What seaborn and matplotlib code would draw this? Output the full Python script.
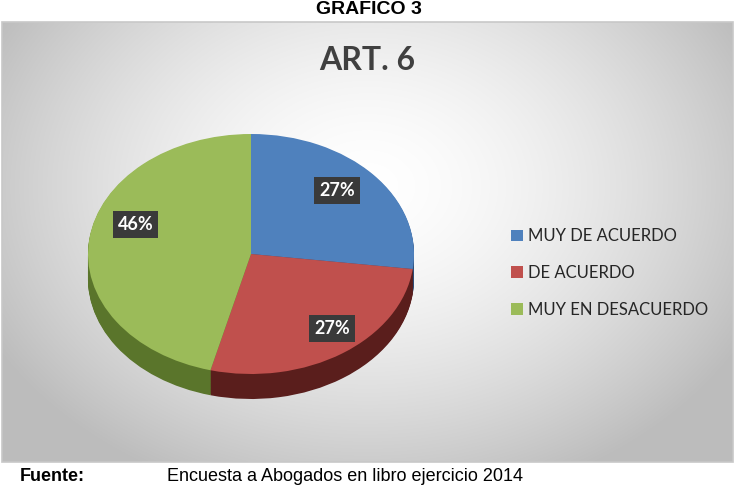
import numpy as np
import matplotlib
matplotlib.use("Agg")
import matplotlib.pyplot as plt
import matplotlib.transforms as mtransforms
import seaborn as sns
from matplotlib.patches import Rectangle

categories = ["MUY DE ACUERDO", "DE ACUERDO", "MUY EN DESACUERDO"]
values = [27, 27, 46]
top_colors = ["#4F81BD", "#C0504D", "#9BBB59"]
side_colors = ["#2E4E78", "#5A1E1C", "#5A752B"]

title = "ART. 6"
header = "GRAFICO 3"
source_label = "Fuente:"
source_text = "Encuesta a Abogados en libro ejercicio 2014"

# label nudges in pixels (dx, dy-down), style only
label_nudges = [(-2, -6), (15, 3), (1, -19)]

sns.set_theme(style="white")
plt.rcParams["font.family"] = ["Lato", "DejaVu Sans"]

W, H = 735, 486
fig = plt.figure(figsize=(W / 100, H / 100), dpi=100)
fig.patch.set_facecolor("white")

def fx(px):
    return px / W

def fy(py):
    return 1 - py / H

# chart area with radial gradient background
cx0, cy0, cx1, cy1 = 2, 22, 733, 462
bg = fig.add_axes([fx(cx0), fy(cy1), fx(cx1 - cx0), (cy1 - cy0) / H])
gx, gy = np.meshgrid(np.linspace(-1, 1, 400), np.linspace(-1, 1, 260))
r = np.sqrt((gx * 0.95) ** 2 + ((gy + 0.25) * 0.75) ** 2)
shade = np.clip(1.0 - 0.22 * r ** 1.6, 0.74, 1.0)
img = np.dstack([shade, shade, shade])
bg.imshow(img, aspect="auto", extent=[0, 1, 0, 1], interpolation="bilinear")
bg.set_xlim(0, 1)
bg.set_ylim(0, 1)
bg.axis("off")
bg.add_patch(Rectangle((0, 0), 1, 1, fill=False, edgecolor="#c8c8c8", lw=1.2,
                       transform=bg.transAxes, clip_on=False))

# 3D-like pie
rx, ry = 163, 120
pcx, pcy = 251, 254
depth_px = 25
depth = depth_px / ry
left_px = pcx - rx
top_px = pcy - ry
h_px = 2 * ry + depth_px
ax = fig.add_axes([fx(left_px), fy(top_px + h_px), fx(2 * rx), h_px / H])
n_layers = 30
for d in np.linspace(depth, 0.0, n_layers, endpoint=False):
    ax.pie(values, colors=side_colors, startangle=90, counterclock=False,
           center=(0, -d), radius=1, wedgeprops=dict(linewidth=0))
wedges, texts, autotexts = ax.pie(
    values, colors=top_colors, startangle=90, counterclock=False,
    center=(0, 0), radius=1, autopct="%1.0f%%", pctdistance=0.72,
    wedgeprops=dict(linewidth=0),
    textprops=dict(color="white", fontsize=13, fontweight="bold"))
for t, (dx, dy) in zip(autotexts, label_nudges):
    t.set_bbox(dict(boxstyle="square,pad=0.28", facecolor="#3a3a3a", edgecolor="none"))
    t.set_transform(mtransforms.offset_copy(t.get_transform(), fig=fig,
                                            x=dx, y=-dy, units="dots"))
ax.set_aspect("auto")
ax.set_xlim(-1, 1)
ax.set_ylim(-1 - depth, 1)
ax.axis("off")

# title
fig.text(fx(367), fy(60), title, ha="center", va="center", fontsize=23,
         fontweight="bold", color="#404040")

# legend
leg = fig.legend(wedges, categories, loc="center left",
                 bbox_to_anchor=(fx(496), fy(273)), frameon=False,
                 fontsize=12, handlelength=0.7, handleheight=0.7,
                 handletextpad=0.35, labelspacing=1.25, labelcolor="#262626")

# header and source (Arial-like)
fig.text(fx(369), fy(0.5), header, ha="center", va="top", fontsize=14,
         fontweight="bold", color="black", family=["Liberation Sans", "DejaVu Sans"])
fig.text(fx(20), fy(485), source_label, ha="left", va="bottom", fontsize=13,
         fontweight="bold", color="black", family=["Liberation Sans", "DejaVu Sans"])
fig.text(fx(167), fy(485), source_text, ha="left", va="bottom", fontsize=13,
         color="black", family=["Liberation Sans", "DejaVu Sans"])

fig.savefig("out.png", dpi=100, facecolor="white")
